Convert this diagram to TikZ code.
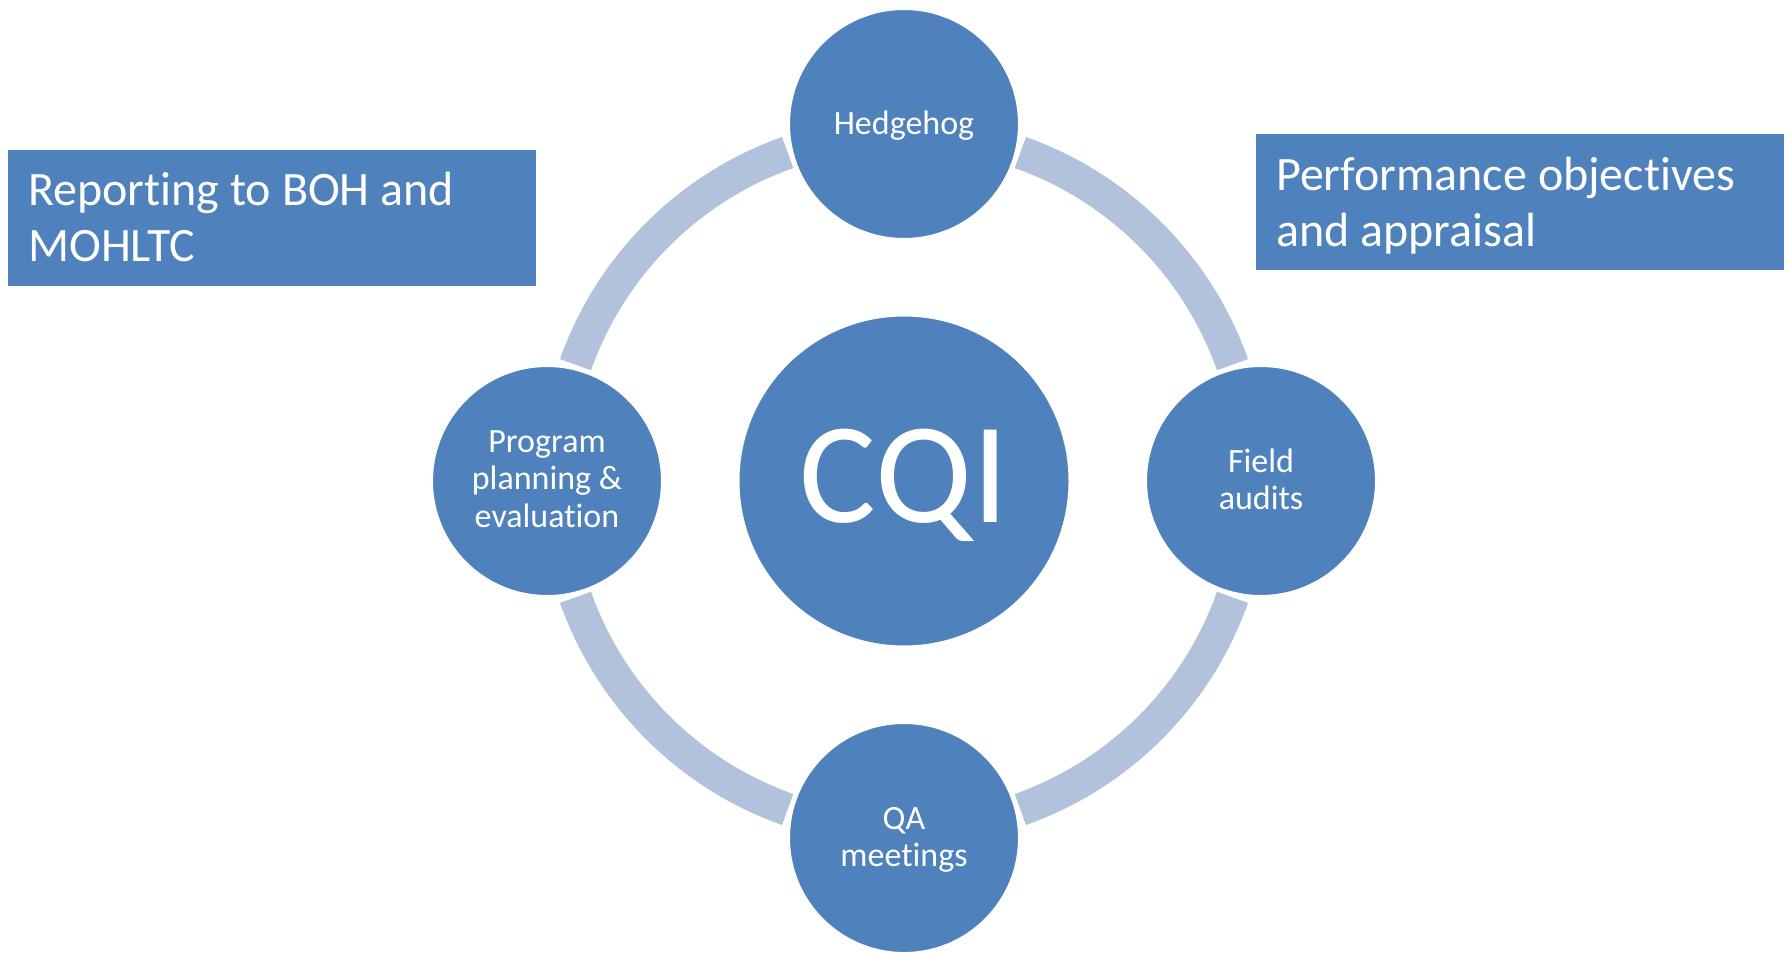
\documentclass[tikz,border=0pt]{standalone}
\usepackage{fontspec}
\setmainfont{Carlito}[Ligatures=NoCommon]
\usetikzlibrary{calc}
\definecolor{cblue}{HTML}{4F81BD}
\definecolor{cring}{RGB}{178,194,220}
\tikzset{
  bigcirc/.style={circle, fill=cblue, draw=white, line width=3pt, minimum size=332pt, inner sep=0pt},
  satcirc/.style={circle, fill=cblue, draw=white, line width=3pt, minimum size=231pt, inner sep=0pt},
  sattext/.style={text=white, align=center, inner sep=0pt, anchor=base, font=\fontsize{34}{37.5}\selectfont},
  ringarc/.style={draw=cring, line width=33pt},
  infobox/.style={rectangle, fill=cblue, minimum width=528pt, minimum height=136pt, inner sep=0pt, anchor=north west},
  boxtext/.style={text=white, align=left, inner sep=0pt, anchor=base west, font=\fontsize{48}{56}\selectfont}
}
\begin{document}
\begin{tikzpicture}[x=1pt,y=-1pt]
\useasboundingbox (0,0) rectangle (1787,953);
\coordinate (c) at (904,481);
% ring arcs
\foreach \a in {19.5,109.5,199.5,289.5}{
  \draw[ringarc] (c) ++(\a:348.5) arc[start angle=\a, delta angle=51, radius=348.5];
}
% circles
\node[bigcirc] (cqi) at (c) {};
\node[text=white, inner sep=0pt, anchor=base, font=\fontsize{144}{150}\selectfont] (cqit) at ($(cqi.center)+(0,41)$) {CQI};
\node[satcirc] (hedge) at (904,124) {};
\node[sattext] (hedget) at ($(hedge.center)+(0,10)$) {Hedgehog};
\node[satcirc] (field) at (1261,481) {};
\node[sattext] (fieldt) at ($(field.center)+(0,28.5)$) {Field\\audits};
\node[satcirc] (qa) at (904,838) {};
\node[sattext] (qat) at ($(qa.center)+(0,28.5)$) {QA\\meetings};
\node[satcirc] (prog) at (547,481) {};
\node[sattext] (progt) at ($(prog.center)+(0,46)$) {Program\\planning \&\\evaluation};
% boxes
\node[infobox] (lbox) at (8,150) {};
\node[boxtext] (lboxt) at ($(lbox.north west)+(20,111)$) {Reporting to BOH and\\MOHLTC};
\node[infobox] (rbox) at (1256,134) {};
\node[boxtext] (rboxt) at ($(rbox.north west)+(20,112)$) {Performance objectives\\and appraisal};
\end{tikzpicture}
\end{document}
